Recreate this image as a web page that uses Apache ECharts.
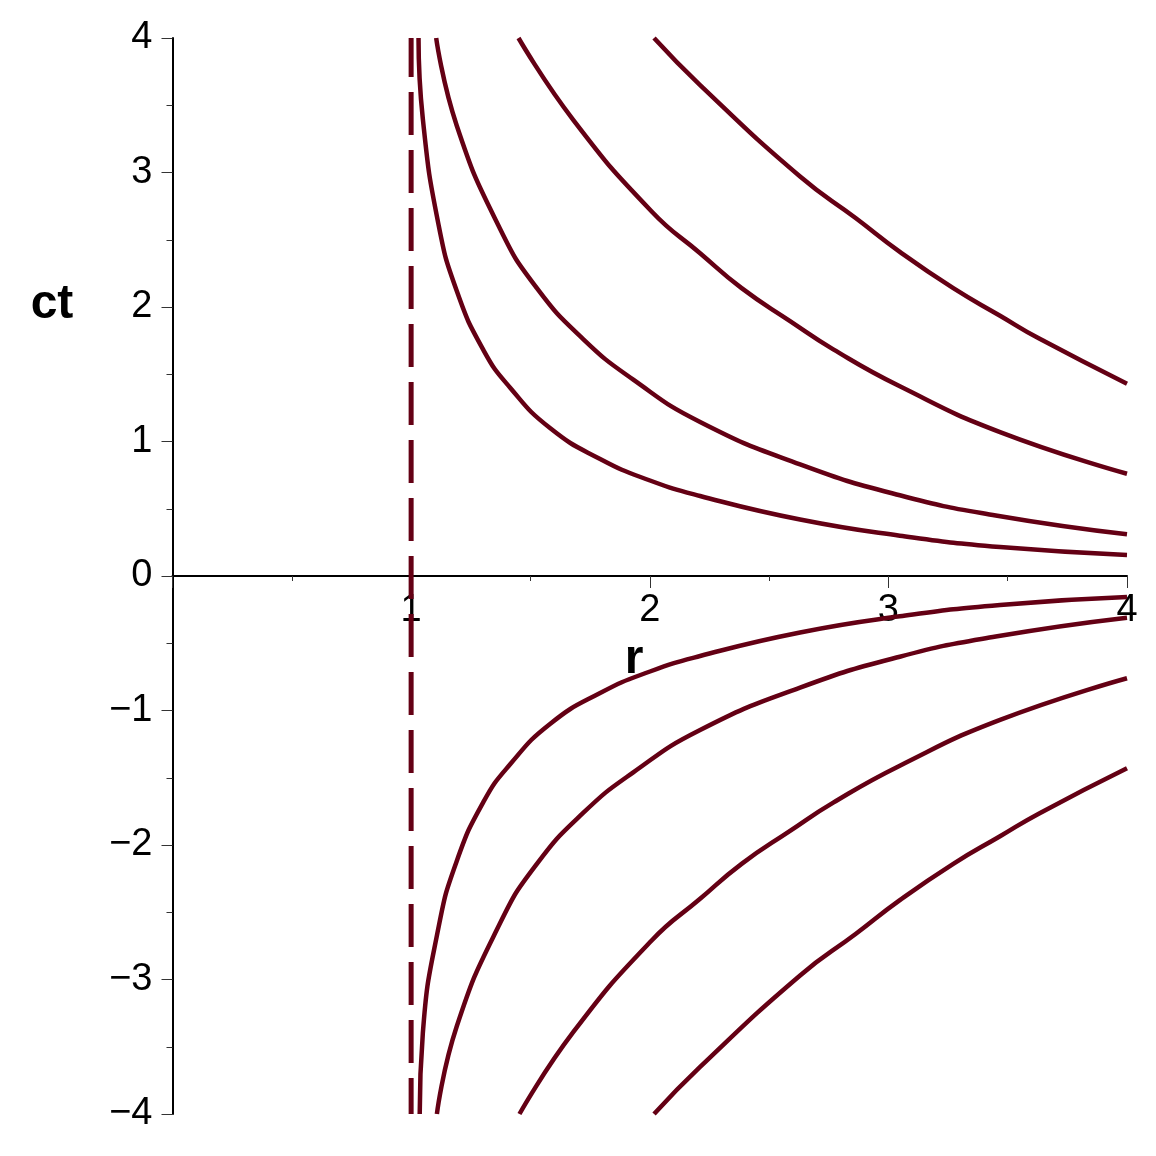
<!DOCTYPE html>
<html>
<head>
<meta charset="utf-8">
<script src="https://cdn.jsdelivr.net/npm/echarts/dist/echarts.min.js"></script>
<style>
html,body{margin:0;padding:0;background:#ffffff;}
#chart{width:1156px;height:1156px;}
</style>
</head>
<body>
<div id="chart"></div>
<script>
// ---- data ----
// upper branches (ct > 0)
const rA_up  = [1.031, 1.049, 1.114, 1.191, 1.303, 1.415, 1.582, 1.792, 2.001, 2.211, 2.630, 3.048, 3.468, 4.0];
const ctA_up = [4.0, 3.40, 2.62, 2.12, 1.68, 1.40, 1.10, 0.87, 0.71, 0.595, 0.42, 0.30, 0.215, 0.157];
const rB_up  = [1.105, 1.191, 1.373, 1.527, 1.722, 1.931, 2.211, 2.630, 3.048, 3.45, 4.0];
const ctB_up = [4.0, 3.35, 2.58, 2.14, 1.76, 1.46, 1.145, 0.83, 0.60, 0.45, 0.31];
const rC_up  = [1.450, 1.680, 2.008, 2.211, 2.385, 2.588, 2.769, 3.048, 3.468, 4.0];
const ctC_up = [4.0, 3.39, 2.71, 2.40, 2.14, 1.895, 1.685, 1.41, 1.07, 0.76];
const rD_up  = [2.018, 2.211, 2.630, 2.864, 3.048, 3.272, 3.468, 3.632, 4.0];
const ctD_up = [4.0, 3.65, 2.97, 2.66, 2.41, 2.14, 1.935, 1.765, 1.43];
// lower branches (ct < 0)
const rA_lo  = [1.036, 1.049, 1.114, 1.191, 1.303, 1.415, 1.582, 1.792, 2.001, 2.211, 2.630, 3.048, 3.468, 4.0];
const ctA_lo = [-4.0, -3.40, -2.62, -2.12, -1.68, -1.40, -1.10, -0.87, -0.71, -0.595, -0.42, -0.30, -0.215, -0.157];
const rB_lo  = [1.108, 1.191, 1.373, 1.527, 1.722, 1.931, 2.211, 2.630, 3.048, 3.45, 4.0];
const ctB_lo = [-4.0, -3.35, -2.58, -2.14, -1.76, -1.46, -1.145, -0.83, -0.60, -0.45, -0.31];
const rC_lo  = [1.454, 1.680, 2.008, 2.211, 2.385, 2.588, 2.769, 3.048, 3.468, 4.0];
const ctC_lo = [-4.0, -3.39, -2.71, -2.40, -2.14, -1.895, -1.685, -1.41, -1.07, -0.76];
const rD_lo  = [2.018, 2.211, 2.630, 2.864, 3.048, 3.272, 3.468, 3.632, 4.0];
const ctD_lo = [-4.0, -3.65, -2.97, -2.66, -2.41, -2.14, -1.935, -1.765, -1.43];
// vertical dashed asymptote r = 1
const rHorizon  = [1, 1];
const ctHorizon = [4, -4];
// axis labels
const xName = 'r';
const yName = 'ct';

const curves = [
  [rA_up, ctA_up], [rB_up, ctB_up], [rC_up, ctC_up], [rD_up, ctD_up],
  [rA_lo, ctA_lo], [rB_lo, ctB_lo], [rC_lo, ctC_lo], [rD_lo, ctD_lo]
];
const zip = (xs, ys) => xs.map((x, i) => [x, ys[i]]);

const LINE = '#640014';
const FONT = '"Liberation Sans", Helvetica, Arial, sans-serif';
const fmtNum = v => (v < 0 ? '\u2212' + Math.abs(v) : String(v));

const series = curves.map(c => ({
  type: 'line',
  data: zip(c[0], c[1]),
  showSymbol: false,
  smooth: 0.5,
  clip: false,
  lineStyle: { color: LINE, width: 4.5 },
  z: 3,
  silent: true
}));
series.push({
  type: 'line',
  data: zip(rHorizon, ctHorizon),
  showSymbol: false,
  clip: false,
  lineStyle: { color: LINE, width: 5, type: [43, 15], dashOffset: 4 },
  z: 3,
  silent: true
});

const chart = echarts.init(document.getElementById('chart'), null, { renderer: 'canvas' });
chart.setOption({
  animation: false,
  backgroundColor: '#ffffff',
  grid: { left: 172.5, right: 29, top: 38, bottom: 42, containLabel: false, outerBoundsMode: 'none' },
  xAxis: {
    type: 'value', min: 0, max: 4, interval: 1,
    position: 'bottom', offset: -538,
    axisLine: { onZero: false, lineStyle: { color: '#000', width: 2 } },
    axisTick: { show: true, length: 12, lineStyle: { color: '#333', width: 1 } },
    minorTick: { show: true, splitNumber: 2, length: 5, lineStyle: { color: '#333', width: 1 } },
    splitLine: { show: false },
    axisLabel: {
      showMinLabel: false, fontSize: 38, color: '#000', fontFamily: FONT, margin: 16,
      formatter: fmtNum
    }
  },
  yAxis: {
    type: 'value', min: -4, max: 4, interval: 1,
    axisLine: { onZero: false, lineStyle: { color: '#000', width: 2 } },
    axisTick: { show: true, length: 11, lineStyle: { color: '#333', width: 1 } },
    minorTick: { show: true, splitNumber: 2, length: 6, lineStyle: { color: '#333', width: 1 } },
    splitLine: { show: false },
    axisLabel: { fontSize: 38, color: '#000', fontFamily: FONT, margin: 20, formatter: fmtNum }
  },
  graphic: [
    { type: 'text', x: 52, y: 305, z: 10,
      style: { text: yName, font: 'bold 48px ' + FONT, fill: '#000', align: 'center', verticalAlign: 'middle' } },
    { type: 'text', x: 634, y: 660, z: 10,
      style: { text: xName, font: 'bold 48px ' + FONT, fill: '#000', align: 'center', verticalAlign: 'middle' } }
  ],
  series: series
});
</script>
</body>
</html>
